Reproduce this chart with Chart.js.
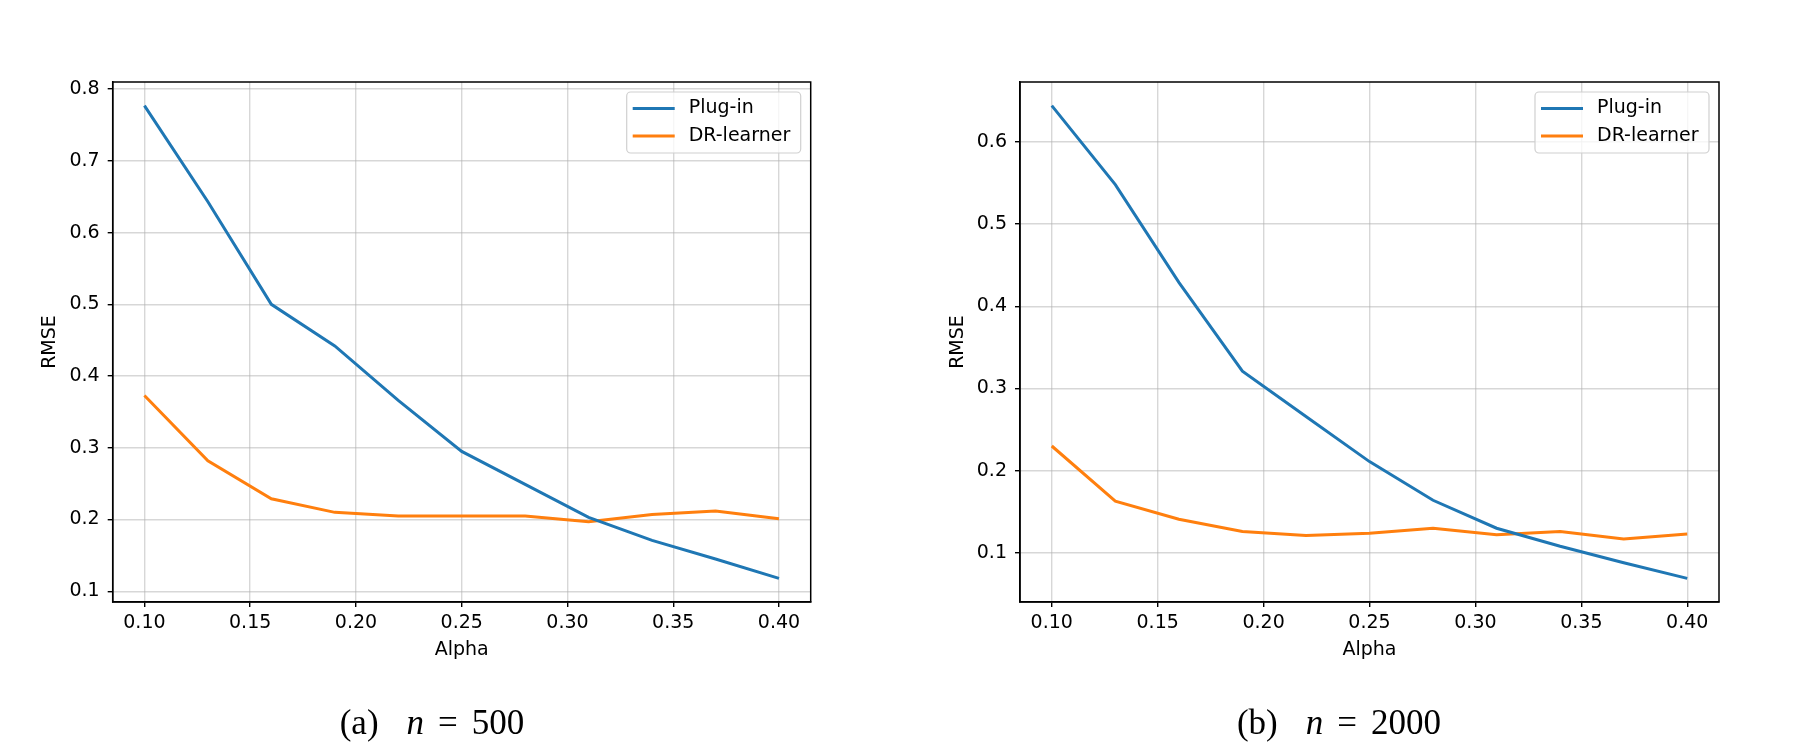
<!DOCTYPE html>
<html>
<head>
<meta charset="utf-8">
<script src="https://cdn.jsdelivr.net/npm/chart.js@4.4.1/dist/chart.umd.min.js"></script>
<style>
  html, body { margin: 0; padding: 0; background: #fff; }
  body { width: 1809px; height: 742px; position: relative; overflow: hidden; }
  .panel { position: absolute; top: 0; height: 742px; }
  .caption {
    position: absolute; top: 705px; font-family: 'Liberation Serif', 'DejaVu Serif', serif;
    font-size: 35px; line-height: 1; color: #000; white-space: nowrap; transform: translateX(-50%);
  }
  .caption span { display: inline-block; }
  .caption .n { font-style: italic; margin-left: 28px; }
  .caption .eq { margin-left: 14px; margin-right: 14px; }
</style>
</head>
<body>
<div class="panel" style="left:0;width:860px"><canvas id="chartA"></canvas></div>
<div class="panel" style="left:904px;width:905px"><canvas id="chartB"></canvas></div>
<div class="caption" style="left:432px"><span>(a)</span><span class="n">n</span><span class="eq">=</span><span>500</span></div>
<div class="caption" style="left:1339px"><span>(b)</span><span class="n">n</span><span class="eq">=</span><span>2000</span></div>

<script>
// x values (alpha) shared by both panels
const alphas = [0.10, 0.13, 0.16, 0.19, 0.22, 0.25, 0.28, 0.31, 0.34, 0.37, 0.40];
const xTicks = [0.10, 0.15, 0.20, 0.25, 0.30, 0.35, 0.40];

// (a) n = 500
const plugInA = [0.777, 0.643, 0.500, 0.442, 0.366, 0.295, 0.249, 0.203, 0.171, 0.145, 0.118];
const drA     = [0.373, 0.282, 0.229, 0.210, 0.205, 0.205, 0.205, 0.197, 0.207, 0.212, 0.201];
const yTicksA = [0.1, 0.2, 0.3, 0.4, 0.5, 0.6, 0.7, 0.8];

// (b) n = 2000
const plugInB = [0.644, 0.548, 0.429, 0.321, 0.266, 0.211, 0.164, 0.130, 0.108, 0.088, 0.069];
const drB     = [0.230, 0.163, 0.141, 0.126, 0.121, 0.124, 0.130, 0.122, 0.126, 0.117, 0.123];
const yTicksB = [0.1, 0.2, 0.3, 0.4, 0.5, 0.6];

const seriesNames = ['Plug-in', 'DR-learner'];
const colors = ['#1f77b4', '#ff7f0e'];

const FONT = "'DejaVu Sans', sans-serif";
const FS = 19;
const GRID = 'rgba(176,176,176,0.5)';

// matplotlib style 5% margins
function padRange(arrs) {
  const all = arrs.flat();
  const lo = Math.min(...all), hi = Math.max(...all);
  const m = (hi - lo) * 0.05;
  return [lo - m, hi + m];
}

// frame + legend inside the axes, top right
const framePlugin = {
  id: 'frame',
  afterDraw(chart) {
    const { ctx, chartArea: a } = chart;
    ctx.save();
    // legend
    const w = 174, h = 61;
    const bx = a.right - 10 - w, by = a.top + 10;
    ctx.beginPath();
    ctx.roundRect(bx, by, w, h, 4);
    ctx.fillStyle = 'rgba(255,255,255,0.8)';
    ctx.fill();
    ctx.strokeStyle = '#d0d0d0';
    ctx.lineWidth = 1.2;
    ctx.stroke();
    ctx.font = FS + 'px ' + FONT;
    ctx.textBaseline = 'middle';
    chart.data.datasets.forEach((ds, i) => {
      const cy = by + 16.5 + i * 27.4;
      ctx.beginPath();
      ctx.moveTo(bx + 6, cy);
      ctx.lineTo(bx + 48, cy);
      ctx.strokeStyle = ds.borderColor;
      ctx.lineWidth = 3;
      ctx.stroke();
      ctx.fillStyle = '#000';
      ctx.fillText(ds.label, bx + 62, cy);
    });
    // axes frame
    ctx.strokeStyle = '#000';
    ctx.lineWidth = 1.5;
    ctx.strokeRect(a.left, a.top, a.right - a.left, a.bottom - a.top);
    ctx.restore();
  }
};

function makeChart(id, plugIn, dr, yTicks, yAxisW, yTitlePad, padRight) {
  const [ymin, ymax] = padRange([plugIn, dr]);
  const [xmin, xmax] = padRange([alphas]);
  const toPts = vals => alphas.map((a, i) => ({ x: a, y: vals[i] }));
  return new Chart(document.getElementById(id), {
    type: 'line',
    data: {
      datasets: [plugIn, dr].map((vals, i) => ({
        label: seriesNames[i],
        data: toPts(vals),
        borderColor: colors[i],
        backgroundColor: colors[i],
        borderWidth: 3,
        pointRadius: 0,
        tension: 0,
      }))
    },
    options: {
      responsive: true,
      maintainAspectRatio: false,
      animation: false,
      layout: { padding: { top: 82, right: padRight, left: 0, bottom: 0 } },
      plugins: { legend: { display: false }, tooltip: { enabled: false } },
      scales: {
        x: {
          type: 'linear',
          min: xmin, max: xmax,
          afterBuildTicks: s => { s.ticks = xTicks.map(v => ({ value: v })); },
          afterFit: s => { s.height = 742 - 602; },
          ticks: {
            callback: v => v.toFixed(2),
            font: { family: FONT, size: FS }, color: '#000',
            padding: 5, maxRotation: 0, autoSkip: false,
          },
          grid: { color: GRID, lineWidth: 1.4, tickColor: '#000', tickLength: 5, tickWidth: 1.4 },
          border: { color: '#000', width: 1.5 },
          title: {
            display: true, text: 'Alpha', color: '#000',
            font: { family: FONT, size: FS }, padding: { top: 0, bottom: 81 },
          },
        },
        y: {
          type: 'linear',
          min: ymin, max: ymax,
          afterBuildTicks: s => { s.ticks = yTicks.map(v => ({ value: v })); },
          afterFit: s => { s.width = yAxisW; },
          ticks: {
            callback: v => v.toFixed(1),
            font: { family: FONT, size: FS }, color: '#000',
            padding: 8, autoSkip: false,
          },
          grid: { color: GRID, lineWidth: 1.4, tickColor: '#000', tickLength: 5, tickWidth: 1.4 },
          border: { color: '#000', width: 1.5 },
          title: {
            display: true, text: 'RMSE', color: '#000',
            font: { family: FONT, size: FS }, padding: { top: yTitlePad, bottom: 0 },
          },
        }
      }
    },
    plugins: [framePlugin]
  });
}

makeChart('chartA', plugInA, drA, yTicksA, 112.7, 39, 860 - 810.7);
makeChart('chartB', plugInB, drB, yTicksB, 1020 - 904, 42.5, 905 - 815);
</script>
</body>
</html>
